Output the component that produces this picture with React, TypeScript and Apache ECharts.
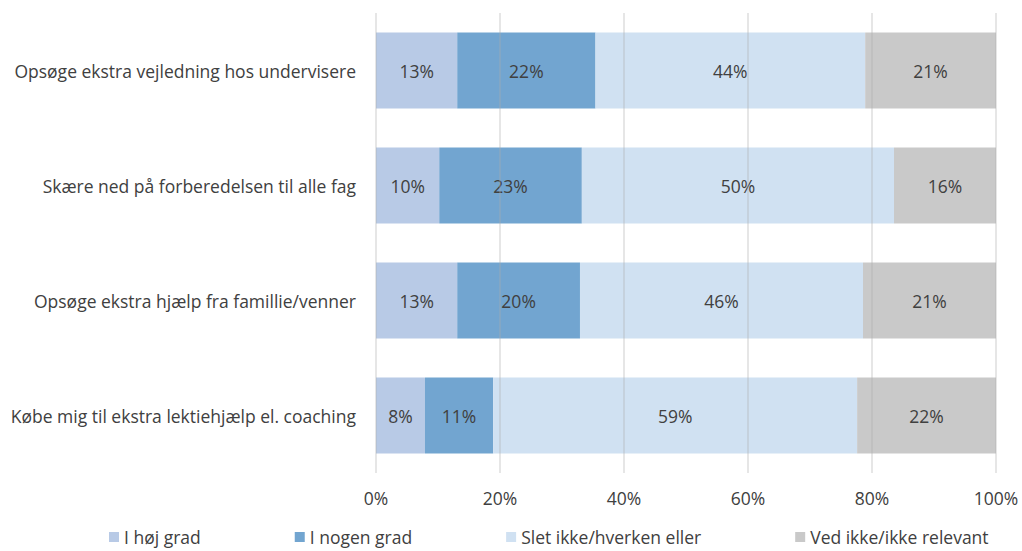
import React, { useEffect, useRef } from "react";
import * as echarts from "echarts";

const categories = [
  "Opsøge ekstra vejledning hos undervisere",
  "Skære ned på forberedelsen til alle fag",
  "Opsøge ekstra hjælp fra famillie/venner",
  "Købe mig til ekstra lektiehjælp el. coaching",
];
const seriesNames = ["I høj grad", "I nogen grad", "Slet ikke/hverken eller", "Ved ikke/ikke relevant"];
const hojGrad = [13.1, 10.2, 13.1, 7.9];
const nogenGrad = [22.3, 23.0, 19.8, 11.0];
const sletIkke = [43.5, 50.35, 45.65, 58.7];
const vedIkke = [21.1, 16.45, 21.45, 22.4];
const colors = ["#b8cae6", "#72a5d0", "#d0e1f2", "#c9c9c9"];
const tickLabels = ["0%", "20%", "40%", "60%", "80%", "100%"];

const FONT = "'Open Sans', 'Noto Sans', sans-serif";
const FS = 17.5;

export default function App() {
  const ref = useRef<HTMLDivElement>(null);
  useEffect(() => {
    if (!ref.current) return;
    const chart = echarts.init(ref.current, undefined, { renderer: "svg" });
    const values = [hojGrad, nogenGrad, sletIkke, vedIkke];
    chart.setOption({
      animation: false,
      textStyle: { fontFamily: FONT },
      grid: { left: 376, right: 26, top: 13, bottom: 78, containLabel: false },
      legend: {
        bottom: 0,
        left: 104,
        itemWidth: 10,
        itemHeight: 10,
        itemGap: 94,
        icon: "rect",
        textStyle: { fontFamily: FONT, fontSize: FS, color: "#404040" },
        data: seriesNames,
      },
      xAxis: {
        type: "value",
        min: 0,
        max: 100,
        interval: 20,
        z: 5,
        axisLine: { show: false },
        axisTick: { show: false },
        splitLine: { show: true, lineStyle: { color: "rgba(170,170,170,0.4)", width: 1.5 } },
        axisLabel: {
          margin: 16,
          fontFamily: FONT,
          fontSize: FS,
          color: "#404040",
          formatter: (v: number) => tickLabels[Math.round(v / 20)],
        },
      },
      yAxis: {
        type: "category",
        inverse: true,
        data: categories,
        axisLine: { show: false },
        axisTick: { show: false },
        axisLabel: { margin: 20, fontFamily: FONT, fontSize: FS, color: "#404040" },
      },
      series: seriesNames.map((name, i) => ({
        name,
        type: "bar",
        stack: "total",
        barWidth: "66%",
        data: values[i],
        itemStyle: { color: colors[i] },
        label: {
          show: true,
          position: "inside",
          fontFamily: FONT,
          fontSize: FS,
          color: "#404040",
          formatter: (p: any) => Math.round(p.value) + "%",
        },
      })),
    });
    return () => chart.dispose();
  }, []);
  return (
    <div
      ref={ref}
      style={{ position: "absolute", left: 0, top: 0, width: 1022, height: 551, background: "#fff" }}
    />
  );
}
